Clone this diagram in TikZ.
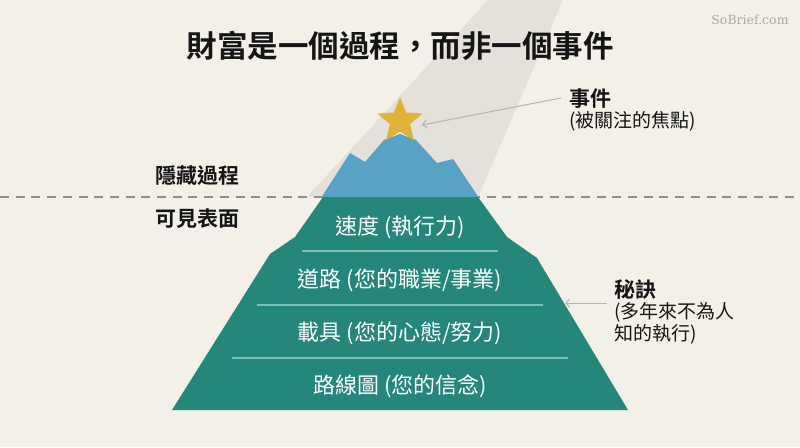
\documentclass[tikz,border=0pt]{standalone}
\usepackage{fontspec}
\setmainfont{Noto Sans CJK TC}[BoldFont={Noto Sans CJK TC Bold}]
\newfontfamily\brieffont{DejaVu Serif}
\usetikzlibrary{arrows.meta}
\definecolor{bgc}{HTML}{F2F0E7}
\definecolor{beamc}{HTML}{E3E1D9}
\definecolor{tealc}{HTML}{24877A}
\definecolor{teallinec}{HTML}{7FBEB3}
\definecolor{bluec}{HTML}{58A2C6}
\definecolor{starc}{HTML}{E1B23A}
\definecolor{dashc}{HTML}{8E8E8E}
\definecolor{arrowc}{HTML}{B3B3B3}
\definecolor{briefc}{HTML}{A9A9A9}
\definecolor{inkc}{HTML}{151515}
\begin{document}
\begin{tikzpicture}[x=1pt,y=-1pt,
  titletext/.style={inner sep=0pt, font=\bfseries\fontsize{30.5}{34}\selectfont, text=inkc},
  tiertext/.style={inner sep=0pt, font=\fontsize{22}{26}\selectfont, text=white},
  sidehead/.style={inner sep=0pt, anchor=west, font=\bfseries\fontsize{21}{24}\selectfont, text=inkc},
  sidesub/.style={inner sep=0pt, anchor=west, align=left, font=\fontsize{19}{21.5}\selectfont, text=inkc},
  levellabel/.style={inner sep=0pt, anchor=west, font=\bfseries\fontsize{21}{24}\selectfont, text=inkc},
  divider/.style={draw=teallinec, line width=1.1pt},
  dashline/.style={draw=dashc, line width=2pt, dash pattern=on 9pt off 6.7pt},
  callout/.style={draw=arrowc, line width=1pt, -{Straight Barb[length=4pt,width=8pt]}}
]
% background
\fill[bgc] (0,0) rectangle (800,447);
\useasboundingbox (0,0) rectangle (800,447);

% light beam
\fill[beamc] (488,0) -- (563,0) -- (478,197) -- (307,197) -- cycle;

% dashed water line
\coordinate (dashStart) at (0,196.5);
\coordinate (dashEnd) at (800,196.5);
\draw[dashline] (dashStart) -- (dashEnd);

% blue hidden peak
\fill[bluec] (321,198) -- (350,153) -- (365,162) -- (384,140) -- (400,134)
  -- (416,140) -- (437,163) -- (453,159) -- (479,198) -- cycle;

% teal visible mountain
\fill[tealc] (323,197) -- (295,237) -- (270,254) -- (172,410) -- (628,410)
  -- (537,258) -- (507,237) -- (478,197) -- cycle;

% star
\fill[starc] (400,97.2) -- (406.2,112.5) -- (422.6,113.6) -- (410.0,124.2)
  -- (414.0,140.3) -- (400,131.5) -- (386.0,140.3) -- (390.0,124.2)
  -- (377.4,113.6) -- (393.8,112.5) -- cycle;
\coordinate (starPoint) at (422,125);

% dividers
\coordinate (d1a) at (302,251); \coordinate (d1b) at (498,251);
\coordinate (d2a) at (257,305); \coordinate (d2b) at (543,305);
\coordinate (d3a) at (232,358); \coordinate (d3b) at (568,358);
\draw[divider] (d1a) -- (d1b);
\draw[divider] (d2a) -- (d2b);
\draw[divider] (d3a) -- (d3b);

% tier texts
\node[tiertext] (tierSpeed) at (400,227) {速度 (執行力)};
\node[tiertext] (tierRoad) at (400,280) {道路 (您的職業/事業)};
\node[tiertext] (tierVehicle) at (400,333) {載具 (您的心態/努力)};
\node[tiertext] (tierMap) at (400,386) {路線圖 (您的信念)};

% title and watermark
\node[titletext] (title) at (400,46) {財富是一個過程，而非一個事件};
\node[inner sep=0pt, text=briefc, font=\brieffont\fontsize{12.5}{14}\selectfont] (brand) at (750,20) {SoBrief.com};

% level labels
\node[levellabel] (hiddenLabel) at (155,176) {隱藏過程};
\node[levellabel] (visibleLabel) at (155,219) {可見表面};

% event callout
\node[sidehead] (eventHead) at (569,99) {事件};
\node[sidesub] (eventSub) at (569,121) {(被關注的焦點)};
\coordinate (eventArrowStart) at (561,98);
\draw[callout] (eventArrowStart) -- (starPoint);

% secret callout
\node[sidehead] (secretHead) at (614,289) {秘訣};
\node[sidesub] (secretSub) at (614,323.5) {(多年來不為人\\知的執行)};
\coordinate (secretArrowStart) at (607,303);
\coordinate (secretArrowEnd) at (565,303);
\draw[callout] (secretArrowStart) -- (secretArrowEnd);
\end{tikzpicture}
\end{document}
